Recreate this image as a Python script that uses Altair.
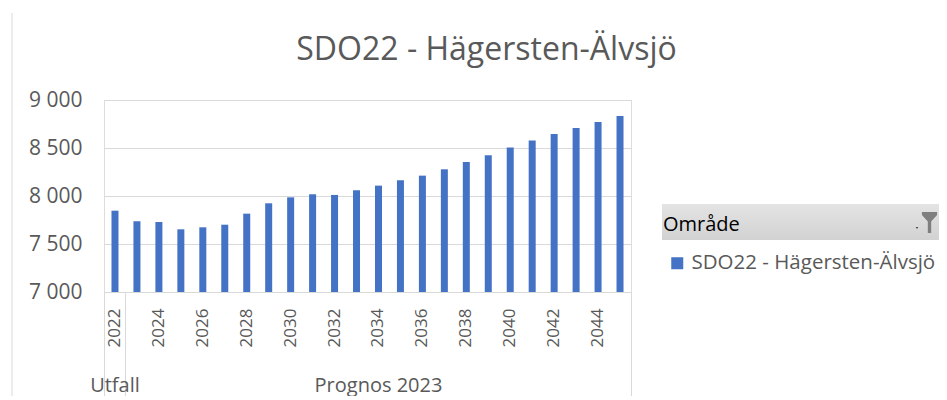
import altair as alt
import pandas as pd

# ---- data ----
years = ["2022", "2023", "2024", "2025", "2026", "2027", "2028", "2029",
         "2030", "2031", "2032", "2033", "2034", "2035", "2036", "2037",
         "2038", "2039", "2040", "2041", "2042", "2043", "2044", "2045"]
values = [7847, 7737, 7729, 7653, 7674, 7701, 7816, 7924,
          7986, 8018, 8011, 8059, 8108, 8164, 8212, 8278,
          8355, 8424, 8504, 8577, 8646, 8709, 8771, 8834]
area_name = "SDO22 - Hägersten-Älvsjö"
label_years = ["2022", "2024", "2026", "2028", "2030", "2032",
               "2034", "2036", "2038", "2040", "2042", "2044"]
y_ticks = [7000, 7500, 8000, 8500, 9000]
group_labels = ["Utfall", "Prognos 2023"]
group_centers = ["2022", "2034"]
separator_years = ["2022", "2045"]
legend_title = "Område"
chart_title = "SDO22 - Hägersten-Älvsjö"

df = pd.DataFrame({"År": years, "Antal": values, "Område": [area_name] * len(years)})
one = pd.DataFrame({"d": [0]})

FONT = "Open Sans"
GREY = "#595959"
LINE = "#d9d9d9"
BLUE = "#4472C4"

x_scale = alt.Scale(domain=years, paddingInner=0, paddingOuter=0)

group_expr = "''"
for lab, yr in zip(reversed(group_labels), reversed(group_centers)):
    group_expr = f"datum.value == '{yr}' ? '{lab}' : ({group_expr})"

bars = alt.Chart(df).mark_bar(size=7).encode(
    x=alt.X("År:N", scale=x_scale, sort=years,
            axis=alt.Axis(orient="bottom", values=label_years, labelAngle=270, ticks=False,
                          tickSize=0, labelPadding=16, labelFontSize=17, labelColor=GREY,
                          labelFont=FONT, domainColor=LINE, domainWidth=1, grid=False,
                          title=None, labelOverlap=False)),
    y=alt.Y("Antal:Q", scale=alt.Scale(domain=[7000, 9000], zero=False, nice=False),
            axis=alt.Axis(values=y_ticks, labelExpr="replace(format(datum.value, ',d'), ',', ' ')",
                          ticks=False, tickSize=0, domain=False, labelPadding=22,
                          labelFontSize=21, labelColor=GREY, labelFont=FONT,
                          grid=True, gridColor=LINE, gridWidth=1, title=None)),
    y2=alt.datum(7000),
    color=alt.Color("Område:N", scale=alt.Scale(range=[BLUE]),
                    legend=alt.Legend(orient="none", legendX=559, legendY=115,
                                      title=legend_title, titleFont=FONT, titleFontSize=20,
                                      titleFontWeight="normal", titleColor="#000000",
                                      titlePadding=18, labelFont=FONT, labelFontSize=20.5,
                                      labelColor=GREY, symbolType="square", symbolSize=144,
                                      symbolStrokeWidth=0, symbolOffset=4, labelOffset=4,
                                      padding=0, labelLimit=400)),
)

sep = alt.Chart(df).mark_point(opacity=0).encode(
    x=alt.X("År:N", scale=x_scale, sort=years,
            axis=alt.Axis(orient="bottom", values=separator_years, labels=False, domain=False,
                          grid=False, ticks=True, tickSize=104, bandPosition=1, tickExtra=True,
                          tickColor=LINE, tickWidth=1, title=None)),
)

grp = alt.Chart(df).mark_point(opacity=0).encode(
    x=alt.X("År:N", scale=x_scale, sort=years,
            axis=alt.Axis(orient="bottom", values=group_centers, labelExpr=group_expr,
                          labelAngle=0, ticks=False, tickSize=0, domain=False, grid=False,
                          labelPadding=99, labelBaseline="alphabetic", labelFontSize=20,
                          labelColor=GREY, labelFont=FONT, title=None, labelOverlap=False)),
)

header = alt.Chart(one).mark_rect(
    color=alt.Gradient(gradient="linear", x1=0, x2=0, y1=0, y2=1,
                       stops=[alt.GradientStop(color="#e4e4e4", offset=0),
                              alt.GradientStop(color="#d2d2d2", offset=1)])
).encode(x=alt.value(558), x2=alt.value(840), y=alt.value(104), y2=alt.value(140))

funnel = alt.Chart(one).mark_point(
    shape="M-0.72,-1L0.72,-1L0.72,-0.72L0.16,-0.1L0.16,1L-0.16,1L-0.16,-0.1L-0.72,-0.72Z",
    filled=True, color="#7f7f7f", size=441, opacity=1, strokeWidth=0
).encode(x=alt.value(825.5), y=alt.value(122.5))

dot = alt.Chart(one).mark_point(shape="triangle-down", filled=True, color="#404040",
                                size=6, opacity=1, strokeWidth=0
).encode(x=alt.value(813), y=alt.value(128))

border = alt.Chart(one).mark_rule(color=LINE, strokeWidth=1).encode(
    x=alt.value(-92), y=alt.value(-87), y2=alt.value(304))

chart = alt.layer(header, border, bars, sep, grp, funnel, dot).resolve_axis(
    x="independent"
).properties(
    width=527, height=192,
    padding={"left": 96, "top": 92, "right": 308, "bottom": 104},
    autosize=alt.AutoSizeParams(type="none"),
    title=alt.TitleParams(chart_title, font=FONT, fontSize=32, fontWeight="normal",
                          color=GREY, anchor="middle", frame="group", dx=119,
                          baseline="alphabetic", offset=-79.5),
).configure_view(stroke=None).configure(font=FONT)

chart.save("out.html", embed_options={"renderer": "svg", "actions": False})
